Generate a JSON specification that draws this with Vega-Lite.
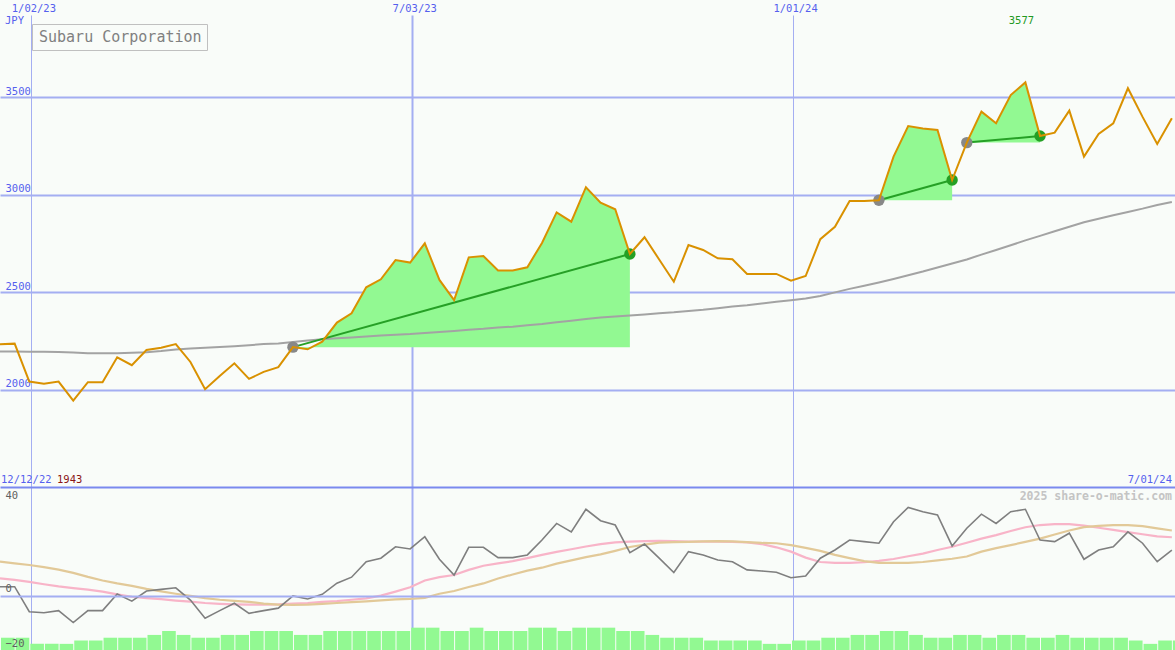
{
  "$schema": "https://vega.github.io/schema/vega-lite/v6.json",
  "background": "#f9fcf9",
  "padding": 0,
  "autosize": {"type": "pad"},
  "spacing": 0,
  "config": {
    "view": {"stroke": null},
    "font": "DejaVu Sans Mono",
    "axis": {"labelFont": "DejaVu Sans Mono", "ticks": false, "tickSize": 0, "domain": false, "title": null, "labelOverlap": false, "labelBound": false}
  },
  "resolve": {"legend": {"color": "independent"}},
  "datasets": {
    "px": [
      {"d":"2022-12-18","p":2233,"ma":2195,"o":3.3,"pk":6.4,"tn":12.5,"v":22},
      {"d":"2022-12-25","p":2236,"ma":2195,"o":3.3,"pk":5.8,"tn":11.9,"v":22},
      {"d":"2023-01-01","p":2041,"ma":2194,"o":-5.9,"pk":5.1,"tn":11.3,"v":11},
      {"d":"2023-01-08","p":2030,"ma":2194,"o":-6.3,"pk":4.2,"tn":10.5,"v":11},
      {"d":"2023-01-15","p":2041,"ma":2193,"o":-5.5,"pk":3.4,"tn":9.6,"v":11},
      {"d":"2023-01-22","p":1943,"ma":2191,"o":-9.9,"pk":2.8,"tn":8.4,"v":17},
      {"d":"2023-01-29","p":2038,"ma":2187,"o":-5.5,"pk":2.2,"tn":6.9,"v":17},
      {"d":"2023-02-05","p":2038,"ma":2186,"o":-5.5,"pk":1.5,"tn":5.6,"v":22},
      {"d":"2023-02-12","p":2166,"ma":2186,"o":0.6,"pk":0.5,"tn":4.5,"v":22},
      {"d":"2023-02-19","p":2125,"ma":2189,"o":-2.0,"pk":-0.4,"tn":3.6,"v":22},
      {"d":"2023-02-26","p":2203,"ma":2192,"o":1.7,"pk":-0.9,"tn":2.5,"v":27},
      {"d":"2023-03-05","p":2215,"ma":2198,"o":2.3,"pk":-1.3,"tn":1.6,"v":34},
      {"d":"2023-03-12","p":2234,"ma":2206,"o":2.9,"pk":-1.8,"tn":0.7,"v":27},
      {"d":"2023-03-19","p":2142,"ma":2211,"o":-1.6,"pk":-2.2,"tn":-0.1,"v":22},
      {"d":"2023-03-26","p":2002,"ma":2215,"o":-8.3,"pk":-2.7,"tn":-0.9,"v":22},
      {"d":"2023-04-02","p":2070,"ma":2219,"o":-5.5,"pk":-3.0,"tn":-1.5,"v":27},
      {"d":"2023-04-09","p":2135,"ma":2223,"o":-2.8,"pk":-3.2,"tn":-1.9,"v":27},
      {"d":"2023-04-16","p":2055,"ma":2228,"o":-6.5,"pk":-3.3,"tn":-2.3,"v":34},
      {"d":"2023-04-23","p":2091,"ma":2234,"o":-5.5,"pk":-3.3,"tn":-2.9,"v":34},
      {"d":"2023-04-30","p":2115,"ma":2237,"o":-4.6,"pk":-3.2,"tn":-3.3,"v":34},
      {"d":"2023-05-07","p":2218,"ma":2244,"o":-0.1,"pk":-2.9,"tn":-3.4,"v":27,"s":1,"b":2218},
      {"d":"2023-05-14","p":2207,"ma":2252,"o":-1.2,"pk":-2.7,"tn":-3.3,"v":27,"s":1,"b":2218},
      {"d":"2023-05-21","p":2246,"ma":2258,"o":0.5,"pk":-2.3,"tn":-3.0,"v":34,"s":1,"b":2218},
      {"d":"2023-05-28","p":2344,"ma":2263,"o":4.6,"pk":-2.0,"tn":-2.7,"v":34,"s":1,"b":2218},
      {"d":"2023-06-04","p":2392,"ma":2267,"o":6.8,"pk":-1.5,"tn":-2.4,"v":34,"s":1,"b":2218},
      {"d":"2023-06-11","p":2525,"ma":2272,"o":12.5,"pk":-1.0,"tn":-2.1,"v":34,"s":1,"b":2218},
      {"d":"2023-06-18","p":2566,"ma":2278,"o":13.8,"pk":0.0,"tn":-1.7,"v":34,"s":1,"b":2218},
      {"d":"2023-06-25","p":2665,"ma":2281,"o":18.0,"pk":1.5,"tn":-1.4,"v":34,"s":1,"b":2218},
      {"d":"2023-07-02","p":2652,"ma":2285,"o":17.2,"pk":3.1,"tn":-1.2,"v":40,"s":1,"b":2218},
      {"d":"2023-07-09","p":2751,"ma":2291,"o":21.7,"pk":5.6,"tn":-0.8,"v":40,"s":1,"b":2218},
      {"d":"2023-07-16","p":2563,"ma":2296,"o":13.4,"pk":6.8,"tn":0.7,"v":34,"s":1,"b":2218},
      {"d":"2023-07-23","p":2460,"ma":2301,"o":7.6,"pk":7.6,"tn":1.7,"v":34,"s":1,"b":2218},
      {"d":"2023-07-30","p":2679,"ma":2307,"o":17.8,"pk":9.5,"tn":3.2,"v":40,"s":1,"b":2218},
      {"d":"2023-08-06","p":2686,"ma":2312,"o":17.8,"pk":11.0,"tn":4.5,"v":34,"s":1,"b":2218},
      {"d":"2023-08-13","p":2611,"ma":2319,"o":14.0,"pk":11.9,"tn":6.3,"v":34,"s":1,"b":2218},
      {"d":"2023-08-20","p":2611,"ma":2323,"o":14.0,"pk":12.7,"tn":7.8,"v":34,"s":1,"b":2218},
      {"d":"2023-08-27","p":2628,"ma":2330,"o":15.0,"pk":13.8,"tn":9.2,"v":40,"s":1,"b":2218},
      {"d":"2023-09-03","p":2753,"ma":2337,"o":20.5,"pk":15.0,"tn":10.3,"v":40,"s":1,"b":2218},
      {"d":"2023-09-10","p":2910,"ma":2346,"o":26.6,"pk":16.1,"tn":11.8,"v":34,"s":1,"b":2218},
      {"d":"2023-09-17","p":2862,"ma":2354,"o":23.5,"pk":17.1,"tn":13.0,"v":40,"s":1,"b":2218},
      {"d":"2023-09-24","p":3039,"ma":2363,"o":31.8,"pk":18.1,"tn":14.2,"v":40,"s":1,"b":2218},
      {"d":"2023-10-01","p":2960,"ma":2370,"o":27.6,"pk":19.0,"tn":15.2,"v":40,"s":1,"b":2218},
      {"d":"2023-10-08","p":2926,"ma":2375,"o":26.0,"pk":19.6,"tn":16.5,"v":34,"s":1,"b":2218},
      {"d":"2023-10-15","p":2696,"ma":2381,"o":15.8,"pk":19.9,"tn":17.9,"v":34,"s":1,"b":2218},
      {"d":"2023-10-22","p":2782,"ma":2386,"o":19.0,"pk":20.1,"tn":18.8,"v":27},
      {"d":"2023-10-29","p":2668,"ma":2392,"o":13.8,"pk":20.2,"tn":19.5,"v":22},
      {"d":"2023-11-05","p":2554,"ma":2397,"o":8.5,"pk":20.1,"tn":19.7,"v":22},
      {"d":"2023-11-12","p":2742,"ma":2404,"o":16.2,"pk":19.9,"tn":19.8,"v":22},
      {"d":"2023-11-19","p":2717,"ma":2410,"o":15.0,"pk":19.9,"tn":20.0,"v":17},
      {"d":"2023-11-26","p":2674,"ma":2418,"o":13.1,"pk":19.9,"tn":20.1,"v":17},
      {"d":"2023-12-03","p":2669,"ma":2426,"o":12.5,"pk":19.8,"tn":20.0,"v":17},
      {"d":"2023-12-10","p":2594,"ma":2433,"o":9.5,"pk":19.6,"tn":19.7,"v":17},
      {"d":"2023-12-17","p":2594,"ma":2442,"o":9.1,"pk":19.0,"tn":19.4,"v":11},
      {"d":"2023-12-24","p":2594,"ma":2451,"o":8.6,"pk":17.8,"tn":19.3,"v":11},
      {"d":"2023-12-31","p":2559,"ma":2459,"o":6.6,"pk":16.2,"tn":18.6,"v":17},
      {"d":"2024-01-07","p":2583,"ma":2468,"o":7.2,"pk":14.0,"tn":17.6,"v":17},
      {"d":"2024-01-14","p":2772,"ma":2481,"o":13.8,"pk":12.4,"tn":16.5,"v":22},
      {"d":"2024-01-21","p":2836,"ma":2499,"o":16.8,"pk":12.1,"tn":15.0,"v":22},
      {"d":"2024-01-28","p":2968,"ma":2517,"o":20.5,"pk":12.1,"tn":13.8,"v":27},
      {"d":"2024-02-04","p":2968,"ma":2533,"o":19.9,"pk":12.3,"tn":12.7,"v":27},
      {"d":"2024-02-11","p":2972,"ma":2550,"o":19.3,"pk":12.8,"tn":12.1,"v":34,"s":2,"b":2972},
      {"d":"2024-02-18","p":3196,"ma":2568,"o":27.2,"pk":13.5,"tn":12.1,"v":34,"s":2,"b":2972},
      {"d":"2024-02-25","p":3353,"ma":2587,"o":32.5,"pk":14.5,"tn":12.1,"v":27,"s":2,"b":2972},
      {"d":"2024-03-03","p":3340,"ma":2606,"o":30.9,"pk":15.5,"tn":12.4,"v":22,"s":2,"b":2972},
      {"d":"2024-03-10","p":3333,"ma":2627,"o":29.7,"pk":16.8,"tn":13.0,"v":22,"s":2,"b":2972},
      {"d":"2024-03-17","p":3076,"ma":2647,"o":18.3,"pk":18.0,"tn":13.6,"v":27,"s":2,"b":2972},
      {"d":"2024-03-24","p":3268,"ma":2668,"o":24.8,"pk":19.5,"tn":14.4,"v":27,"s":3,"b":3268},
      {"d":"2024-03-31","p":3427,"ma":2693,"o":30.0,"pk":21.0,"tn":16.2,"v":22,"s":3,"b":3268},
      {"d":"2024-04-07","p":3367,"ma":2717,"o":26.6,"pk":22.3,"tn":17.5,"v":27,"s":3,"b":3268},
      {"d":"2024-04-14","p":3512,"ma":2741,"o":30.9,"pk":23.8,"tn":18.6,"v":27,"s":3,"b":3268},
      {"d":"2024-04-21","p":3577,"ma":2766,"o":31.8,"pk":25.2,"tn":19.8,"v":22,"s":3,"b":3268},
      {"d":"2024-04-28","p":3302,"ma":2789,"o":20.5,"pk":26.0,"tn":21.0,"v":22,"s":3,"b":3268},
      {"d":"2024-05-05","p":3319,"ma":2813,"o":19.9,"pk":26.3,"tn":22.5,"v":27},
      {"d":"2024-05-12","p":3432,"ma":2836,"o":23.0,"pk":26.3,"tn":24.0,"v":22},
      {"d":"2024-05-19","p":3196,"ma":2859,"o":13.4,"pk":25.8,"tn":25.2,"v":22},
      {"d":"2024-05-26","p":3312,"ma":2877,"o":16.8,"pk":25.0,"tn":25.7,"v":22},
      {"d":"2024-06-02","p":3367,"ma":2895,"o":18.0,"pk":24.2,"tn":26.0,"v":22},
      {"d":"2024-06-09","p":3547,"ma":2912,"o":23.5,"pk":23.4,"tn":26.0,"v":17},
      {"d":"2024-06-16","p":3400,"ma":2929,"o":19.3,"pk":22.6,"tn":25.6,"v":11},
      {"d":"2024-06-23","p":3261,"ma":2948,"o":12.5,"pk":21.8,"tn":24.8,"v":17},
      {"d":"2024-06-30","p":3393,"ma":2963,"o":16.8,"pk":21.5,"tn":24.0,"v":17}
    ],
    "trades": [
      {"seg":1,"d0":"2023-05-07","p0":2218,"d1":"2023-10-15","p1":2696},
      {"seg":2,"d0":"2024-02-11","p0":2972,"d1":"2024-03-17","p1":3076},
      {"seg":3,"d0":"2024-03-24","p0":3268,"d1":"2024-04-28","p1":3302}
    ]
  },
  "vconcat": [
    {
      "width": 1175,
      "height": 472,
      "data": {"name": "px"},
      "layer": [
        {
          "transform": [{"filter": "isValid(datum.s)"}],
          "mark": {"type": "area", "color": "#92f992", "opacity": 1},
          "encoding": {
            "x": {
              "field": "d", "type": "temporal",
              "scale": {"type": "utc", "domain": [{"year":2022,"month":12,"date":18,"utc":true},{"year":2024,"month":7,"date":1,"hours":12,"utc":true}]},
              "axis": {
                "orient": "top",
                "values": [{"year":2023,"month":1,"date":2,"utc":true},{"year":2023,"month":7,"date":3,"utc":true},{"year":2024,"month":1,"date":1,"utc":true}],
                "labelExpr": "utcFormat(datum.value, '%-m/%d/%y')",
                "labelColor": "#5560ee", "labelFontSize": 10.5, "labelPadding": 2, "labelOffset": 2, "labelFlush": false,
                "grid": true, "gridColor": "#a4aef2",
                "gridWidth": {"condition": {"test": "utcmonth(datum.value) == 6", "value": 2}, "value": 1},
                "minExtent": 15, "maxExtent": 15
              }
            },
            "y": {
              "field": "p", "type": "quantitative",
              "scale": {"domain": [1500, 3923], "nice": false, "zero": false},
              "axis": {
                "orient": "left",
                "values": [2000, 2500, 3000, 3500],
                "format": "d",
                "labelAlign": "left", "labelPadding": -5, "labelBaseline": "bottom", "labelOffset": -1,
                "labelColor": "#5560ee", "labelFontSize": 10.5, "labelFlush": false,
                "grid": true, "gridColor": "#a4aef2", "gridWidth": 2
              }
            },
            "y2": {"field": "b"},
            "detail": {"field": "s"}
          }
        },
        {
          "mark": {"type": "line", "color": "#a3a3a3", "strokeWidth": 2, "clip": true},
          "encoding": {
            "x": {"field": "d", "type": "temporal"},
            "y": {"field": "ma", "type": "quantitative"}
          }
        },
        {
          "data": {"name": "trades"},
          "mark": {"type": "rule", "color": "#26a026", "strokeWidth": 2},
          "encoding": {
            "x": {"field": "d0", "type": "temporal"},
            "x2": {"field": "d1"},
            "y": {"field": "p0", "type": "quantitative"},
            "y2": {"field": "p1"}
          }
        },
        {
          "data": {"name": "trades"},
          "mark": {"type": "point", "filled": true, "color": "#888888", "size": 130, "opacity": 1},
          "encoding": {
            "x": {"field": "d0", "type": "temporal"},
            "y": {"field": "p0", "type": "quantitative"}
          }
        },
        {
          "data": {"name": "trades"},
          "mark": {"type": "point", "filled": true, "color": "#24a024", "size": 130, "opacity": 1},
          "encoding": {
            "x": {"field": "d1", "type": "temporal"},
            "y": {"field": "p1", "type": "quantitative"}
          }
        },
        {
          "mark": {"type": "line", "strokeWidth": 2, "clip": true},
          "encoding": {
            "x": {"field": "d", "type": "temporal"},
            "y": {"field": "p", "type": "quantitative"},
            "color": {
              "datum": "Subaru Corporation", "type": "nominal",
              "scale": {"range": ["#d99100"]},
              "legend": {
                "orient": "none", "legendX": 32, "legendY": 9, "title": null,
                "strokeColor": "#c0c0c0", "padding": 5,
                "symbolSize": 0, "symbolStrokeWidth": 0, "symbolOpacity": 0, "labelOffset": -13,
                "labelFont": "DejaVu Sans Mono", "labelFontSize": 15, "labelColor": "#808080", "labelLimit": 400
              }
            }
          }
        },
        {
          "transform": [
            {"joinaggregate": [{"op": "max", "field": "p", "as": "mx"}]},
            {"filter": "datum.p == datum.mx"}
          ],
          "mark": {"type": "text", "color": "#229922", "fontSize": 10.5, "baseline": "middle", "dx": -4, "font": "DejaVu Sans Mono"},
          "encoding": {
            "x": {"field": "d", "type": "temporal"},
            "y": {"datum": 3892},
            "text": {"field": "p", "type": "quantitative"}
          }
        },
        {
          "transform": [
            {"joinaggregate": [{"op": "min", "field": "p", "as": "mn"}]},
            {"filter": "datum.p == datum.mn"}
          ],
          "mark": {"type": "text", "color": "#8b1515", "fontSize": 10.5, "align": "left", "baseline": "bottom", "dx": 57, "dy": -2, "font": "DejaVu Sans Mono"},
          "encoding": {
            "x": {"datum": {"year":2022,"month":12,"date":18,"utc":true}},
            "y": {"datum": 1500},
            "text": {"field": "p", "type": "quantitative"}
          }
        },
        {
          "transform": [
            {"aggregate": [{"op": "min", "field": "d", "as": "first"}]}
          ],
          "mark": {"type": "text", "text": "12/12/22", "color": "#5560ee", "fontSize": 10.5, "align": "left", "baseline": "bottom", "dx": 1, "dy": -2, "font": "DejaVu Sans Mono"},
          "encoding": {
            "x": {"datum": {"year":2022,"month":12,"date":18,"utc":true}},
            "y": {"datum": 1500}
          }
        },
        {
          "transform": [
            {"aggregate": [{"op": "max", "field": "d", "as": "last"}]}
          ],
          "mark": {"type": "text", "text": "7/01/24", "color": "#5560ee", "fontSize": 10.5, "align": "right", "baseline": "bottom", "dx": -3, "dy": -2, "font": "DejaVu Sans Mono"},
          "encoding": {
            "x": {"datum": {"year":2024,"month":7,"date":1,"hours":12,"utc":true}},
            "y": {"datum": 1500}
          }
        },
        {
          "transform": [
            {"aggregate": [{"op": "count", "as": "n"}]}
          ],
          "mark": {"type": "text", "text": "JPY", "color": "#5560ee", "fontSize": 10.5, "align": "left", "baseline": "top", "dx": 5, "dy": 1, "font": "DejaVu Sans Mono"},
          "encoding": {
            "x": {"datum": {"year":2022,"month":12,"date":18,"utc":true}},
            "y": {"datum": 3923}
          }
        }
      ]
    },
    {
      "width": 1175,
      "height": 163,
      "data": {"name": "px"},
      "resolve": {"scale": {"y": "independent"}},
      "layer": [
        {
          "mark": {"type": "bar", "color": "#92f992"},
          "encoding": {
            "x": {
              "field": "d", "timeUnit": "utcyearweek", "type": "temporal",
              "scale": {"type": "utc", "domain": [{"year":2022,"month":12,"date":18,"utc":true},{"year":2024,"month":7,"date":1,"hours":12,"utc":true}]},
              "axis": {
                "orient": "top",
                "values": [{"year":2023,"month":1,"date":2,"utc":true},{"year":2023,"month":7,"date":3,"utc":true},{"year":2024,"month":1,"date":1,"utc":true}],
                "labels": false,
                "domain": true, "domainColor": "#7b89ef", "domainWidth": 2,
                "grid": true, "gridColor": "#a4aef2",
                "gridWidth": {"condition": {"test": "utcmonth(datum.value) == 6", "value": 2}, "value": 1},
                "minExtent": 0, "maxExtent": 0
              }
            },
            "y": {"field": "v", "type": "quantitative", "scale": {"domain": [0, 292], "nice": false}, "axis": null}
          }
        },
        {
          "layer": [
            {
              "mark": {"type": "line", "color": "#f8b4c8", "strokeWidth": 2.2, "clip": true},
              "encoding": {
                "x": {"field": "d", "type": "temporal"},
                "y": {
                  "field": "pk", "type": "quantitative",
                  "scale": {"domain": [-20, 40], "nice": false, "zero": false},
                  "axis": {
                    "orient": "left",
                    "values": [-20, 0, 40],
                    "labelAlign": "left", "labelPadding": -5, "labelFlush": false,
                    "labelBaseline": {"condition": {"test": "datum.value == 40", "value": "top"}, "value": "bottom"},
                    "labelOffset": {"condition": {"test": "datum.value == 40", "value": 3}, "value": -2},
                    "labelColor": "#606060", "labelFontSize": 10.5,
                    "grid": true, "gridColor": "#a4aef2", "gridWidth": 2,
                    "gridOpacity": {"condition": {"test": "datum.value == 0", "value": 1}, "value": 0},
                    "zindex": 1
                  }
                }
              }
            },
            {
              "mark": {"type": "line", "color": "#e2c998", "strokeWidth": 2.2, "clip": true},
              "encoding": {
                "x": {"field": "d", "type": "temporal"},
                "y": {"field": "tn", "type": "quantitative"}
              }
            },
            {
              "mark": {"type": "line", "color": "#7f7f7f", "strokeWidth": 1.6, "clip": true},
              "encoding": {
                "x": {"field": "d", "type": "temporal"},
                "y": {"field": "o", "type": "quantitative"}
              }
            },
            {
              "transform": [
                {"aggregate": [{"op": "count", "as": "n"}]}
              ],
              "mark": {"type": "text", "text": "2025 share-o-matic.com", "color": "#c4c4c4", "fontSize": 11.5, "fontWeight": "bold", "align": "right", "baseline": "top", "dx": -3, "dy": 4, "font": "DejaVu Sans Mono"},
              "encoding": {
                "x": {"datum": {"year":2024,"month":7,"date":1,"hours":12,"utc":true}},
                "y": {"datum": 40}
              }
            }
          ]
        }
      ]
    }
  ]
}
